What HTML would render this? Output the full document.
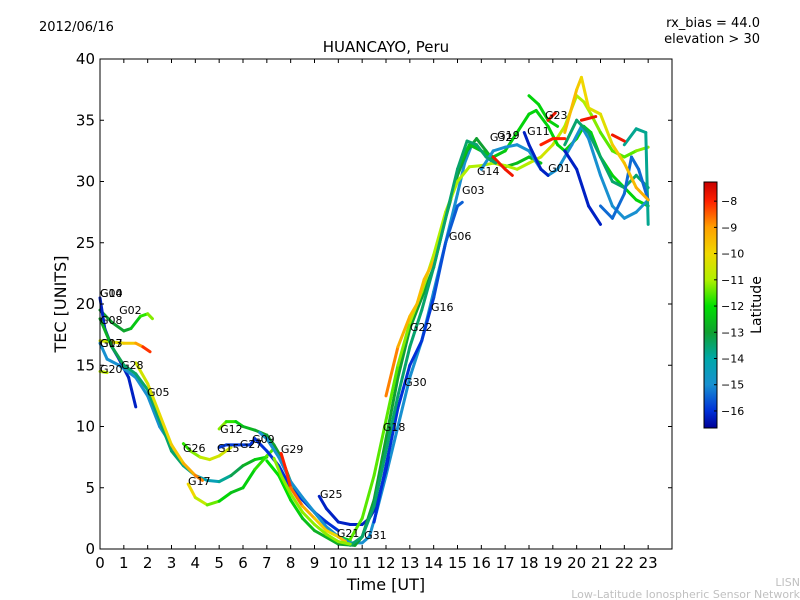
<!DOCTYPE html>
<html><head><meta charset="utf-8"><style>
body{margin:0;background:#fff}
svg{display:block;font-family:"DejaVu Sans","Liberation Sans",sans-serif}
</style></head><body>
<svg id="chart" width="800" height="600" viewBox="0 0 800 600" xmlns="http://www.w3.org/2000/svg">
<defs><linearGradient id="cbg" x1="0" y1="1" x2="0" y2="0"></linearGradient></defs>
<rect width="800" height="600" fill="#fff"/>
<text x="39" y="31" font-size="13">2012/06/16</text>
<text x="760" y="27" font-size="13" text-anchor="end">rx_bias = 44.0</text>
<text x="760" y="43" font-size="13" text-anchor="end">elevation &gt; 30</text>
<text x="386" y="52" font-size="15" text-anchor="middle">HUANCAYO, Peru</text>
<g id="plot"></g>
<text x="386" y="590" font-size="16" text-anchor="middle">Time [UT]</text>
<text x="66" y="304" font-size="16" text-anchor="middle" transform="rotate(-90 66 304)">TEC [UNITS]</text>
<g id="cbar"></g>
<text x="761" y="305" font-size="14" text-anchor="middle" transform="rotate(-90 761 305)">Latitude</text>
<text x="800" y="586" font-size="11" fill="#c0c0c0" text-anchor="end">LISN</text>
<text x="800" y="598" font-size="11" fill="#c0c0c0" text-anchor="end">Low-Latitude Ionospheric Sensor Network</text>
</svg>
<script>
const xTicks=[0,1,2,3,4,5,6,7,8,9,10,11,12,13,14,15,16,17,18,19,20,21,22,23];
const yTicks=[0,5,10,15,20,25,30,35,40];
const cbTicks=[-8,-9,-10,-11,-12,-13,-14,-15,-16];
const latMin=-16.65, latMax=-7.27;
// tracks: time (UT hours), TEC, latitude
const tA=[0,0.5,1,1.3,1.7,2,2.2], vA=[19.5,18.5,17.8,18,19,19.2,18.8], lA=[-13,-13,-13,-12.8,-12,-11.5,-11];
const tB=[0,0.5,1,1.5,1.8,2.1], vB=[17,16.9,16.8,16.8,16.5,16.1], lB=[-10.5,-10.5,-10,-9.5,-8.5,-7.8];
const tC=[0,0.2,0.5,0.8,1.2,1.5], vC=[20.5,18,16.5,15.5,14,11.6], lC=[-16.2,-16.2,-16.2,-16.2,-16.2,-16.2];
const tD=[0,0.3,0.8,1.5,2,2.5,3,3.3], vD=[16.8,15.5,15,14,12.5,10,8.5,7.5], lD=[-15,-15,-15,-15,-15,-15,-15,-15];
const tE=[0,0.5,1,1.5,2,2.5,3,3.5,4,4.5,5,5.5,6,6.5,7], vE=[18.8,16.5,15,14.3,13,10.5,8,6.8,6,5.6,5.5,6,6.8,7.3,7.5], lE=[-12.5,-13,-13.5,-13.5,-13.5,-13.5,-13.5,-13.5,-14,-14.5,-14.2,-13.5,-13,-12.5,-12];
const tF=[1.5,2,2.5,3,3.5,4,4.3], vF=[15.2,13.5,11,8.5,7,6,5.6], lF=[-10.5,-10.5,-10.2,-10,-9.5,-9,-8.5];
const tG=[3.7,4,4.5,5,5.5,6,6.5,7,7.3], vG=[5.3,4.2,3.6,3.9,4.6,5,6.5,7.6,8.2], lG=[-9.5,-10.5,-11,-11.8,-12.5,-12.5,-12,-11.5,-11.5];
const tH=[3.5,3.8,4.2,4.6,5,5.5], vH=[8.6,8,7.5,7.3,7.6,8.3], lH=[-12,-11.5,-11,-10.5,-10.5,-10.5];
const tI=[5,5.3,5.7,6,6.5,7,7.3,7.6,8,8.5,9,9.5,10,10.5], vI=[9.8,10.4,10.4,10,9.7,9.3,8.5,7.5,5.5,4,3,1.8,1,0.7], lI=[-11,-11.5,-12,-12.5,-12.8,-13,-13,-13,-13,-12.8,-12.5,-12.5,-12.2,-12];
const tJ=[5,5.3,6.3,6.5,7,7.5,8,8.5,9,9.5,10], vJ=[8.3,8.5,8.5,9,8,6.8,5,4,3,2.2,1.5], lJ=[-16,-15.8,-16,-16,-16,-16,-16,-16,-16,-16,-16];
const tK=[6.7,7,7.5,8,8.5,9,9.5,10,10.5,11,11.3,11.6,12,12.5,13,13.5,14,14.5,15,15.3,15.6,16,16.5], vK=[9.5,9,7.5,5.5,4.2,3,1.8,1,0.5,0.5,1,3,6,10,14,17,21,25,29,31.5,33,32.5,31.5], lK=[-15,-15,-15,-15,-15,-15,-15,-15,-15,-15,-15,-15,-15,-15,-15,-15,-15,-15,-15,-15,-15,-15,-15];
const tL=[7.6,7.8,8,8.5,9,9.5,10,10.3], vL=[7.8,6.5,5,3.5,2.5,1.5,1,0.6], lL=[-8,-8,-8.2,-9,-9.5,-10,-10,-9];
const tM=[9.2,9.5,10,10.5,11,11.3,11.6,12,12.1], vM=[4.3,3.3,2.2,2,2,2.5,3.5,6.5,7.5], lM=[-16.2,-16.2,-16.2,-16.2,-16.2,-16.2,-16.2,-16.2,-16.2];
const tN=[7,7.5,8,8.5,9,10,10.7,11,11.5,12,12.5,13,13.5,14,14.5,15,15.4,15.8,16.2,16.6,17,17.5,18,18.5], vN=[7.2,6,4,2.5,1.5,0.4,0.3,1,4,9,14,18,20.5,23,27,30.5,32.5,33.5,32.5,31.5,31.2,31.5,32,31.5], lN=[-12,-12,-12,-12.5,-12.5,-13,-13,-13,-13,-13,-13,-13,-13,-13,-13,-13,-13,-13,-13,-13,-12.8,-12.5,-12.5,-12.5];
const tO=[10.5,11,11.5,12,12.5,13,13.5,14,14.5,15,15.5,16,16.5,17,17.5,18,18.5,19,19.5,20,20.3,20.6,21,21.5,22,22.5,23], vO=[0.8,2.5,6,10.5,15,18.5,21,24,27.5,30,31.2,31.3,31.5,31.3,31,31.5,32,33,34.5,37,36.5,35.5,34,32.5,32,32.5,32.8], lO=[-11.5,-11.5,-11.5,-11.5,-11.5,-11,-11,-11,-11,-11,-11,-11,-11,-11,-11,-11,-10.5,-10.5,-11,-11,-11,-11,-11.5,-11.5,-11.5,-11.5,-11];
const tP=[12,12.5,13,13.3,13.6,14,14.2], vP=[12.5,16.5,19,20,22,23.5,24.5], lP=[-8.5,-9,-9.5,-9.5,-9.5,-9.5,-10];
const tQ=[11.5,12,12.5,13,13.5,14,14.5,15,15.2], vQ=[2.2,6.8,11.5,15,17,20.5,25,28,28.3], lQ=[-16,-16,-16,-16,-16,-15.8,-15.6,-15.5,-15.5];
const tS=[15,15.5,16,16.5,17,17.5,18,18.3,18.8,19.2,19.5,20,20.3,20.6,21,21.5,22,22.5,23], vS=[31,33,32.5,32,32.5,34,35.5,35.8,34.5,33,32.5,33.5,34.5,34,32,30.5,29.5,28.5,28], lS=[-12.5,-12.5,-12.5,-12.5,-12.3,-12.2,-12.2,-12.2,-12.2,-12.2,-12.2,-12.2,-12.2,-12.2,-12.2,-12.2,-12.2,-12.2,-12.2];
const tT=[18,18.4,18.8,19.2], vT=[37,36.3,35,34.5], lT=[-12.2,-12.2,-12.2,-12.2];
const tU=[16,16.5,17,17.5,18,18.5,18.8,19.2,19.5,19.8,20.2,20.5,21,21.5,22,22.5,23], vU=[31,32.5,32.8,33,32.5,31,30.5,31,32,33,34.5,33.5,30.5,28,27,27.5,28.5], lU=[-15,-15,-15,-15,-15,-15,-15,-15,-15,-15,-15,-15,-15,-15,-15,-15,-15];
const tV=[17.8,18,18.5,18.8], vV=[34,33,31,30.5], lV=[-16.2,-16.2,-16.2,-16.2];
const tV2=[19.5,20,20.5,21], vV2=[32.5,31,28,26.5], lV2=[-16.2,-16.2,-16.2,-16.2];
const tW=[19.5,20,20.5,21,21.5,22,22.5,23], vW=[33,35,34,32,30,29.5,30.5,29.5], lW=[-13.5,-13.5,-13.5,-13.5,-13.5,-13.5,-13.5,-13.5];
const tW2=[22,22.5,22.9,23], vW2=[33,34.3,34,26.5], lW2=[-13.8,-13.8,-13.8,-13.8];
const tX=[21,21.5,22,22.3,22.6,23], vX=[28,27,29,32,31,28.5], lX=[-15.4,-15.4,-15.4,-15.4,-15.4,-15.4];
const tY=[19.5,20,20.2,20.5,21,21.5,22,22.5,23], vY=[34,37.5,38.5,36,35.5,33,31.5,29.5,28.5], lY=[-9.5,-9.5,-10,-10,-10.5,-10,-9.5,-9.5,-9];
const tR1=[18.5,19,19.5], vR1=[33,33.5,33.5], lR1=[-8,-8,-8];
const tR2=[20.2,20.8], vR2=[35,35.3], lR2=[-7.8,-7.8];
const tR3=[21.5,22], vR3=[33.8,33.3], lR3=[-7.8,-7.8];
const tR4=[16.5,17,17.3], vR4=[32,31,30.5], lR4=[-7.8,-7.8,-7.8];
const tR5=[18.8,19.1], vR5=[35,35.6], lR5=[-7.8,-7.8];
const tZ=[0,0.3], vZ=[14.5,14.4], lZ=[-10.8,-10.8];
const tAA=[10.5,11,11.5,12,12.5,13,13.5,14,14.5,15,15.4,15.8,16.2,16.6], vAA=[0.3,1,3.5,8,12.5,16.5,19.5,23,27,31,33.3,33,32,31.5], lAA=[-13.5,-13.5,-13.5,-13.5,-13.5,-13.5,-13.5,-13.5,-13.5,-13.5,-13.5,-13.5,-13.5,-13.5];
const tAB=[7.3,7.6,8,8.5,9,9.5,10,10.5], vAB=[7.4,6,4.5,3,2,1.2,0.6,0.4], lAB=[-11.2,-11.2,-11.2,-11.2,-11.2,-11.2,-11.2,-11.2];
const tracksT=[tA,tB,tC,tD,tE,tF,tG,tH,tI,tJ,tK,tL,tM,tN,tO,tP,tQ,tS,tT,tU,tV,tV2,tW,tW2,tX,tY,tR1,tR2,tR3,tR4,tR5,tZ,tAA,tAB];
const tracksV=[vA,vB,vC,vD,vE,vF,vG,vH,vI,vJ,vK,vL,vM,vN,vO,vP,vQ,vS,vT,vU,vV,vV2,vW,vW2,vX,vY,vR1,vR2,vR3,vR4,vR5,vZ,vAA,vAB];
const tracksL=[lA,lB,lC,lD,lE,lF,lG,lH,lI,lJ,lK,lL,lM,lN,lO,lP,lQ,lS,lT,lU,lV,lV2,lW,lW2,lX,lY,lR1,lR2,lR3,lR4,lR5,lZ,lAA,lAB];
const prnNames=["G10","G04","G02","G08","G13","G07","G20","G28","G05","G12","G26","G15","G27","G09","G29","G17","G25","G21","G31","G18","G30","G22","G16","G06","G03","G14","G32","G19","G11","G23","G01"];
const prnTime=[0,0,0.8,0,0,0,0,0.88,1.97,5.04,3.48,4.91,5.87,6.38,7.59,3.69,9.23,9.94,11.08,11.87,12.76,13.0,13.89,14.64,15.19,15.82,16.36,16.66,17.92,18.67,18.8];
const prnTec=[20.57,20.57,19.18,18.37,16.49,16.49,14.37,14.69,12.49,9.47,7.92,7.92,8.24,8.65,7.84,5.22,4.16,0.98,0.82,9.63,13.31,17.8,19.43,25.22,28.98,30.53,33.3,33.47,33.8,35.1,30.78];

const X0=100,X1=672,Y0=549,Y1=59;
const xs=t=>X0+t*(X1-X0)/24;
const ys=v=>Y0-v*(Y0-Y1)/40;
const stops=[[-16.65,[0,0,150]],[-16,[0,48,216]],[-15,[24,144,208]],[-14,[0,168,168]],[-13,[16,160,48]],[-12,[0,224,0]],[-11,[176,240,0]],[-10,[240,216,0]],[-9,[255,160,0]],[-8,[255,32,0]],[-7.27,[200,0,0]]];
function cmap(l){
  l=Math.max(latMin,Math.min(latMax,l));
  for(let i=0;i<stops.length-1;i++){const a=stops[i],b=stops[i+1];
    if(l>=a[0]&&l<=b[0]){const f=(l-a[0])/(b[0]-a[0]);
      return 'rgb('+a[1].map((c,k)=>Math.round(c+(b[1][k]-c)*f)).join(',')+')';}}
  return 'rgb(200,0,0)';
}
const NS='http://www.w3.org/2000/svg';
function mk(tag,attrs,parent){const e=document.createElementNS(NS,tag);for(const k in attrs)e.setAttribute(k,attrs[k]);parent.appendChild(e);return e;}
const plot=document.getElementById('plot');
const frame=mk('rect',{x:X0,y:Y1,width:X1-X0,height:Y0-Y1,fill:'#fff'},plot);


tracksT.forEach((tt,i)=>{
  const vv=tracksV[i],ll=tracksL[i];
  const g=mk('g',{},plot);
  
  
  for(let j=0;j<tt.length-1;j++){
    const seg=mk('line',{x1:xs(tt[j]),y1:ys(vv[j]),x2:xs(tt[j+1]),y2:ys(vv[j+1]),stroke:cmap((ll[j]+ll[j+1])/2),'stroke-width':3,'stroke-linecap':'round'},g);
    
    
  }
});
prnNames.forEach((n,i)=>{
  const t=mk('text',{x:xs(prnTime[i]),y:ys(prnTec[i]),'font-size':11},plot);
  t.textContent=n;
  
  
});
const border=mk('rect',{x:X0,y:Y1,width:X1-X0,height:Y0-Y1,fill:'none',stroke:'#000','stroke-width':1},plot);


xTicks.forEach(v=>{
  const x=xs(v);
  const a=mk('line',{x1:x,y1:Y0,x2:x,y2:Y0-4,stroke:'#000'},plot);
  
  
  const b=mk('line',{x1:x,y1:Y1,x2:x,y2:Y1+4,stroke:'#000'},plot);
  
  
  const t=mk('text',{x:x,y:Y0+19,'font-size':15,'text-anchor':'middle'},plot);
  t.textContent=v;
  
  
});
yTicks.forEach(v=>{
  const y=ys(v);
  const a=mk('line',{x1:X0,y1:y,x2:X0+4,y2:y,stroke:'#000'},plot);
  
  
  const b=mk('line',{x1:X1,y1:y,x2:X1-4,y2:y,stroke:'#000'},plot);
  
  
  const t=mk('text',{x:X0-5,y:y+5,'font-size':15,'text-anchor':'end'},plot);
  t.textContent=v;
  
  
});
// colorbar
const CB0=428,CB1=182,CBX=704,CBW=13;
const cy=l=>CB0-(l-latMin)*(CB0-CB1)/(latMax-latMin);
const grad=document.getElementById('cbg');
stops.forEach(s=>{mk('stop',{offset:((s[0]-latMin)/(latMax-latMin)).toFixed(4),'stop-color':cmap(s[0])},grad);});
const cb=document.getElementById('cbar');
const cr=mk('rect',{x:CBX,y:CB1,width:CBW,height:CB0-CB1,fill:'url(#cbg)',stroke:'#000','stroke-width':1},cb);


cbTicks.forEach(l=>{
  const y=cy(l);
  const a=mk('line',{x1:CBX+CBW,y1:y,x2:CBX+CBW-3,y2:y,stroke:'#000'},cb);
  
  
  const t=mk('text',{x:CBX+CBW+4,y:y+4,'font-size':11},cb);
  t.textContent='\u2212'+Math.abs(l);
  
  
});
</script>
</body></html>
